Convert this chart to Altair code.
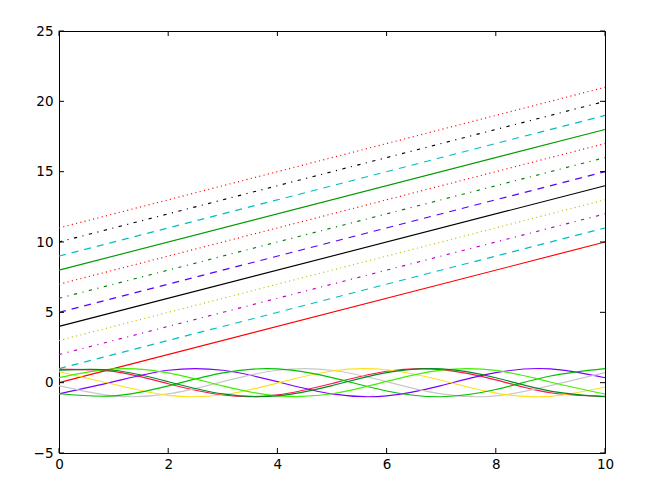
import altair as alt
import pandas as pd

# ---- data -------------------------------------------------------------
x_start, x_end = 0, 10
offsets = [0, 1, 2, 3, 4, 5, 6, 7, 8, 9, 10, 11]

# sinusoid values read at x = 0, 1, ..., 10
sin_xs = [0, 1, 2, 3, 4, 5, 6, 7, 8, 9, 10]
sin_names = ["red", "purple", "gray", "yellow", "greenA", "lime", "greenB"]
sin_y = {
    "red":    [0.94, 0.80, -0.08, -0.88, -0.87, -0.06, 0.81, 0.93, 0.20, -0.72, -0.97],
    "purple": [-0.80, 0.07, 0.88, 0.88, 0.07, -0.80, -0.94, -0.21, 0.71, 0.98, 0.35],
    "gray":   [-0.21, -0.94, -0.80, 0.07, 0.88, 0.88, 0.07, -0.80, -0.94, -0.21, 0.71],
    "yellow": [0.78, -0.11, -0.90, -0.86, -0.03, 0.83, 0.92, 0.17, -0.74, -0.97, -0.31],
    "greenA": [-0.79, -0.94, -0.23, 0.70, 0.98, 0.36, -0.59, -1.00, -0.49, 0.47, 1.00],
    "lime":   [0.36, 0.98, 0.70, -0.23, -0.94, -0.79, 0.09, 0.89, 0.87, 0.05, -0.81],
    "greenB": [0.88, 0.88, 0.07, -0.80, -0.94, -0.21, 0.71, 0.98, 0.35, -0.60, -1.00],
}

x_ticks = [0, 2, 4, 6, 8, 10]
y_ticks = [-5, 0, 5, 10, 15, 20, 25]

# ---- styles -----------------------------------------------------------
line_colors = ["#ff0000", "#00bfbf", "#bf00bf", "#bfbf00", "#000000", "#5500ff",
               "#008000", "#ff0000", "#009a00", "#00bfbf", "#000000", "#ff0000"]
DASH = [7, 6]
DASHDOT = [3.3, 5.5, 1.1, 5.5]
DOT = [1.1, 3.3]
line_dashes = [None, DASH, DASHDOT, DOT] * 3
sin_colors = {
    "red": "#ff1450", "purple": "#7a00ff", "gray": "#c8c8c8", "yellow": "#ffe01a",
    "greenA": "#00c000", "lime": "#40f000", "greenB": "#008a1e",
}

W, H = 546, 422
xs = alt.Scale(domain=[0, 10], nice=False, zero=False)
ys = alt.Scale(domain=[-5, 25], nice=False, zero=False)
xax = alt.Axis(values=x_ticks, format="d", ticks=False, domain=False, grid=False,
               labelPadding=4, labelFlush=False, title=None)
yax = alt.Axis(values=y_ticks, format="d", ticks=False, domain=False, grid=False,
               labelPadding=6, labelFlush=False, title=None)


def X(f):
    return alt.X(f, scale=xs, axis=xax, title=None)


def Y(f):
    return alt.Y(f, scale=ys, axis=yax, title=None)


layers = []

# straight lines
for i, off in enumerate(offsets):
    df = pd.DataFrame({"x": [x_start, x_end], "y": [x_start + off, x_end + off]})
    kw = dict(color=line_colors[i], strokeWidth=1.15)
    if line_dashes[i] is not None:
        kw["strokeDash"] = line_dashes[i]
    layers.append(alt.Chart(df).mark_line(**kw).encode(x=X("x:Q"), y=Y("y:Q")))

# sinusoids
for name in sin_names:
    df = pd.DataFrame({"x": sin_xs, "y": sin_y[name]})
    layers.append(
        alt.Chart(df).mark_line(color=sin_colors[name], strokeWidth=1.15,
                                interpolate="natural").encode(x=X("x:Q"), y=Y("y:Q"))
    )

# inward tick marks on all four sides
xt = pd.DataFrame({"v": x_ticks})
yt = pd.DataFrame({"v": y_ticks})
TL = 5
layers.append(alt.Chart(xt).mark_rule(color="black", strokeWidth=1).encode(
    x=X("v:Q"), y=alt.value(H), y2=alt.value(H - TL)))
layers.append(alt.Chart(xt).mark_rule(color="black", strokeWidth=1).encode(
    x=X("v:Q"), y=alt.value(0), y2=alt.value(TL)))
layers.append(alt.Chart(yt).mark_rule(color="black", strokeWidth=1).encode(
    y=Y("v:Q"), x=alt.value(0), x2=alt.value(TL)))
layers.append(alt.Chart(yt).mark_rule(color="black", strokeWidth=1).encode(
    y=Y("v:Q"), x=alt.value(W), x2=alt.value(W - TL)))

chart = alt.layer(*layers).properties(
    width=W, height=H,
    background="white",
    autosize=alt.AutoSizeParams(type="none"),
    padding={"left": 51, "top": 23, "right": 30, "bottom": 26},
).configure_view(
    stroke="black", strokeWidth=1
).configure_axis(
    labelFont="DejaVu Sans", labelFontSize=13.5, labelColor="black"
)

chart.save("out.html", embed_options={"renderer": "svg", "actions": False})
